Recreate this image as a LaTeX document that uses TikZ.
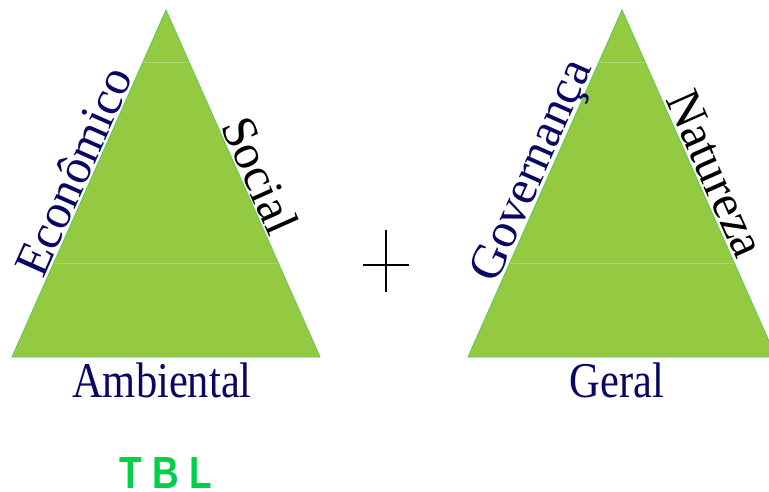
\documentclass[tikz,border=0pt]{standalone}
\usepackage{fontspec}
\setmainfont{Liberation Serif}
\newfontfamily\tblfont{Liberation Sans}
\usetikzlibrary{calc}
\definecolor{trifill}{RGB}{148,202,66}
\definecolor{triedge}{RGB}{90,200,80}
\definecolor{faint}{RGB}{170,215,110}
\definecolor{navytext}{RGB}{8,8,100}
\definecolor{tblgreen}{RGB}{0,208,72}
\tikzset{
  tri/.style={fill=trifill,draw=triedge,line width=0.8pt,line join=miter},
  faintline/.style={draw=faint,line width=0.6pt},
  sidelabel/.style={inner sep=0pt,anchor=base,font=\fontsize{49}{58}\selectfont},
  baselabel/.style={inner sep=0pt,anchor=base,text=navytext,xscale=0.85,font=\fontsize{50}{60}\selectfont},
}
\begin{document}
\begin{tikzpicture}[x=1pt,y=1pt]
\clip (0,0) rectangle (769,491);
% left triangle
\coordinate (LA) at (12,134);
\coordinate (LB) at (320,134);
\coordinate (LC) at (166,481);
\fill[tri] (LA) -- (LB) -- (LC) -- cycle;
\draw[faintline] ($(LA)!0.850!(LC)$) -- ($(LB)!0.850!(LC)$);
\draw[faintline] ($(LA)!0.271!(LC)$) -- ($(LB)!0.271!(LC)$);
% right triangle
\coordinate (RA) at (468,134);
\coordinate (RB) at (776,134);
\coordinate (RC) at (622,481);
\fill[tri] (RA) -- (RB) -- (RC) -- cycle;
\draw[faintline] ($(RA)!0.850!(RC)$) -- ($(RB)!0.850!(RC)$);
\draw[faintline] ($(RA)!0.271!(RC)$) -- ($(RB)!0.271!(RC)$);
% side labels
\node[sidelabel,text=navytext,rotate=66.07] (econ) at (88.5,313) {Econômico};
\node[sidelabel,text=black,rotate=-66.07] (soc) at (245,309) {Social};
\node[sidelabel,text=navytext,rotate=66.07] (gov) at (544,315) {Governança};
\node[sidelabel,text=black,rotate=-66.07] (nat) at (701,311) {Natureza};
% base labels
\node[baselabel] (amb) at (162,94) {Ambiental};
\node[baselabel] (ger) at (617,94) {Geral};
% plus sign
\coordinate (pT) at (386,261);
\coordinate (pB) at (386,199);
\coordinate (pL) at (363,226);
\coordinate (pR) at (409,226);
\draw[line width=2.8pt] (pT) -- (pB);
\draw[line width=2.8pt] (pL) -- (pR);
% TBL
\node[inner sep=0pt,anchor=base,text=tblgreen,xscale=0.82,font=\tblfont\bfseries\fontsize{45}{54}\selectfont] (tbl) at (166,3) {T B L};
\end{tikzpicture}
\end{document}
